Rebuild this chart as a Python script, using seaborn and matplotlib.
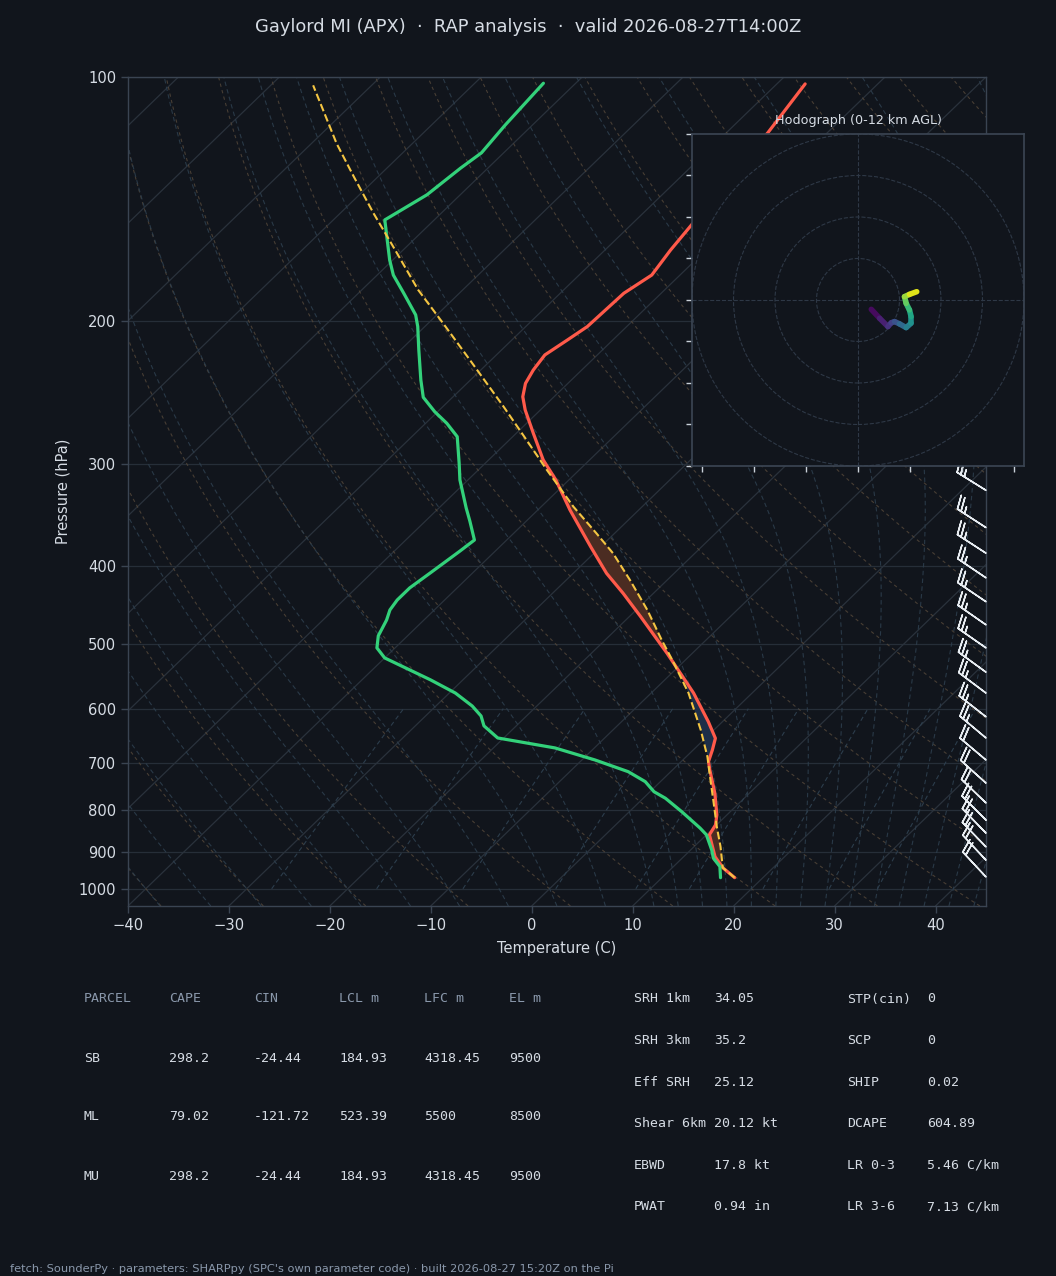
import numpy as np
import matplotlib
matplotlib.use("Agg")
import matplotlib.pyplot as plt
from matplotlib.collections import LineCollection
import seaborn as sns

# sounding (hPa, degC)
p_temp = [969, 942, 913, 887, 858, 834.5, 811, 763, 714, 697, 674.6, 652.6, 622.6, 574, 512.8,
          462, 432.6, 408.7, 379, 341.6, 313.6, 296.3, 274.8, 257.2, 247.7, 238.5, 229.6, 220,
          210.9, 203, 184.7, 175.4, 163.4, 152.2, 134, 117, 102]
temp = [17.2, 15.0, 13.1, 11.8, 10.3, 9.9, 9.0, 6.6, 3.7, 2.7, 1.9, 1.0, -1.4, -5.8, -12.5,
        -18.9, -23.0, -26.7, -31.0, -36.8, -41.3, -44.6, -48.3, -51.5, -53.1, -54.2, -54.8, -55.2,
        -54.5, -53.9, -53.7, -52.8, -53.5, -54.0, -54.8, -55.9, -57.2]

p_dwpt = [969, 939, 917, 896, 858, 842, 803.7, 773.6, 759.4, 738, 717.5, 694, 670.7, 652, 630,
          612.6, 595.5, 574, 553, 519.6, 505, 488, 466.6, 453.5, 440.9, 426, 408.3, 383.7, 371.9,
          352.4, 339.6, 313.6, 299, 277.4, 267.1, 258.4, 248.1, 236.3, 216.9, 203, 196.4, 184.7,
          175.4, 168.1, 158.8, 150, 139.7, 129.5, 124, 114.6, 101.8]
dwpt = [15.8, 14.6, 13.1, 12.1, 10.0, 8.7, 5.2, 2.2, 0.4, -1.5, -4.2, -8.7, -13.9, -20.6, -23.2,
        -24.5, -26.4, -29.4, -33.2, -40.0, -41.8, -42.9, -43.7, -44.4, -44.7, -44.7, -44.2, -43.5,
        -43.2, -45.6, -47.3, -50.8, -52.6, -55.5, -57.9, -60.3, -62.9, -64.9, -68.2, -70.7, -72.1,
        -75.5, -78.4, -80.3, -82.6, -84.9, -83.3, -82.7, -82.2, -82.7, -83.2]

p_parcel = [969, 942, 887, 838.5, 784.7, 727.6, 687.6, 637.4, 574, 522.6, 493.8, 453.5, 416.5,
            386.2, 364.9, 338.4, 304.9, 280, 254.7, 223.2, 201.2, 183, 161.9, 147.2, 132.7,
            120.8, 102.4]
t_parcel = [17.2, 15.0, 12.6, 10.2, 7.5, 4.4, 2.1, -1.3, -6.3, -11.3, -14.4, -18.9, -23.7,
            -28.1, -31.8, -36.8, -43.2, -48.3, -54.0, -62.1, -68.5, -74.4, -81.3, -86.7, -92.4,
            -97.5, -105.8]

# wind barbs (kt)
barb_p = [967, 922, 888, 854, 823, 784, 741, 694, 652, 614, 574, 541, 505, 473, 443, 414, 386, 359, 323]
barb_u = [13.6, 13.6, 13.9, 13.9, 14.1, 14.4, 14.9, 15.3, 19.2, 19.7, 20.0, 20.2, 20.5, 20.5,
          20.7, 20.7, 21.0, 21.0, 21.2]
barb_v = [-14.6, -14.6, -14.4, -14.4, -14.1, -13.9, -13.4, -12.9, -16.1, -15.4, -15.0, -14.7,
          -14.3, -14.3, -14.0, -14.0, -13.6, -13.6, -13.2]

# hodograph (kt) and height (km AGL)
hodo_u = [6.4, 10.4, 14.4, 16.0, 17.6, 20.0, 23.2, 25.6, 25.6, 24.8, 23.2, 22.4, 24.8, 28.3]
hodo_v = [-4.5, -8.8, -12.8, -11.0, -10.4, -11.5, -13.3, -11.2, -8.0, -4.8, -1.6, 1.6, 2.7, 4.0]
hodo_z = [0, 0.7, 1.4, 2.0, 2.6, 3.5, 4.6, 5.6, 6.6, 7.6, 8.6, 9.6, 10.8, 12.0]

# parameter tables
parcels = ["SB", "ML", "MU"]
cape = [298.2, 79.02, 298.2]
cin = [-24.44, -121.72, -24.44]
lcl = [184.93, 523.39, 184.93]
lfc = [4318.45, 5500, 4318.45]
el = [9500, 8500, 9500]
kin_names = ["SRH 1km", "SRH 3km", "Eff SRH", "Shear 6km", "EBWD", "PWAT"]
kin_vals = ["34.05", "35.2", "25.12", "20.12 kt", "17.8 kt", "0.94 in"]
thermo_names = ["STP(cin)", "SCP", "SHIP", "DCAPE", "LR 0-3", "LR 3-6"]
thermo_vals = ["0", "0", "0.02", "604.89", "5.46 C/km", "7.13 C/km"]

bg = "#11151c"
spine_c = "#3a4452"
grid_c = "#262e38"
txt_c = "#d6dce4"
dim_c = "#8a98ab"

sns.set_theme(style="dark", rc={"axes.facecolor": bg, "figure.facecolor": bg})
plt.rcParams["font.family"] = ["DejaVu Sans"]

P_BOT, P_TOP, X_MIN, X_MAX = 1050.0, 100.0, -40.0, 45.0


def skx(t, p):
    # 45 deg skew in axes units
    p = np.asarray(p, dtype=float)
    return np.asarray(t, dtype=float) + (X_MAX - X_MIN) * np.log(P_BOT / p) / np.log(P_BOT / P_TOP)


Rd, Cp, Lv, eps = 287.04, 1005.7, 2.501e6, 0.622


def sat_mr(tk, p):
    es = 6.112 * np.exp(17.67 * (tk - 273.15) / (tk - 29.65))
    return eps * es / (p - es)


def moist_line(t0, ps):
    def f(tk, lp):
        rs = sat_mr(tk, np.exp(lp))
        return (Rd * tk + Lv * rs) / (Cp + Lv ** 2 * rs * eps / (Rd * tk ** 2))
    tk = t0 + 273.15
    out = [tk]
    for a, b in zip(ps[:-1], ps[1:]):
        l0, l1 = np.log(a), np.log(b)
        h = l1 - l0
        k1 = f(tk, l0)
        k2 = f(tk + h / 2 * k1, l0 + h / 2)
        k3 = f(tk + h / 2 * k2, l0 + h / 2)
        k4 = f(tk + h * k3, l1)
        tk = tk + h / 6 * (k1 + 2 * k2 + 2 * k3 + k4)
        out.append(tk)
    return np.array(out) - 273.15


fig = plt.figure(figsize=(10.56, 12.76), dpi=100)
ax = fig.add_axes([0.1212, 0.2900, 0.8125, 0.6497])
ax.set_facecolor(bg)
ax.set_yscale("log")

# background: isobars, isotherms, adiabats, mixing ratio lines
for pl in range(100, 1001, 100):
    ax.axhline(pl, color=grid_c, lw=0.9, zorder=0)
for t in range(-130, 50, 10):
    ax.plot(skx([t, t], [P_BOT, P_TOP]), [P_BOT, P_TOP], color="#2a323c", lw=0.9, zorder=0)

pg = np.geomspace(P_BOT, P_TOP, 120)
for th in np.arange(-40, 200.1, 10):
    td = (th + 273.15) * (pg / 1000.0) ** (Rd / Cp) - 273.15
    ax.plot(skx(td, pg), pg, color="#55483a", lw=0.8, ls=(0, (3, 3)), alpha=0.8, zorder=0)

p_up = np.geomspace(1000, P_TOP, 140)
p_dn = np.geomspace(1000, P_BOT, 6)
for t0 in np.concatenate((np.arange(-50.0, 10.1, 5.0), np.arange(12.5, 45.1, 2.5))):
    tu = moist_line(t0, p_up)
    tdn = moist_line(t0, p_dn)
    pp = np.concatenate((p_dn[::-1], p_up[1:]))
    tt = np.concatenate((tdn[::-1], tu[1:]))
    ax.plot(skx(tt, pp), pp, color="#2c3d4c", lw=0.8, ls=(0, (4, 3)), alpha=0.9, zorder=0)

pm = np.linspace(1000, 600, 30)
for w in [0.0004, 0.001, 0.002, 0.004, 0.007, 0.01, 0.016, 0.024, 0.032]:
    e = pm * w / (eps + w)
    le = np.log(e / 6.112)
    tw = 243.5 * le / (17.67 - le)
    ax.plot(skx(tw, pm), pm, color="#2c3d4c", lw=0.8, ls=(0, (4, 3)), zorder=0)

# CAPE / CIN shading between temperature and parcel
pf = np.geomspace(969, 300, 400)
lp_t = np.log(p_temp[::-1])
lp_p = np.log(p_parcel[::-1])
tf = np.interp(np.log(pf), lp_t, temp[::-1])
parf = np.interp(np.log(pf), lp_p, t_parcel[::-1])
ax.fill_betweenx(pf, skx(tf, pf), skx(parf, pf), where=(parf > tf) & ((pf < 525) | (pf > 820)),
                 color="#4b2c22", interpolate=True, zorder=1, lw=0)
ax.fill_betweenx(pf, skx(tf, pf), skx(parf, pf), where=(parf < tf) & (pf > 500) & (pf < 735),
                 color="#1d2e48", interpolate=True, zorder=1, lw=0)

# profiles
sns.lineplot(x=skx(temp, p_temp), y=p_temp, sort=False, estimator=None, ax=ax,
             color="#ff5a4a", lw=2.3, zorder=3)
sns.lineplot(x=skx(dwpt, p_dwpt), y=p_dwpt, sort=False, estimator=None, ax=ax,
             color="#33d17a", lw=2.3, zorder=3)
sns.lineplot(x=skx(t_parcel, p_parcel), y=p_parcel, sort=False, estimator=None, ax=ax,
             color="#f4c542", lw=1.5, ls="--", zorder=4)

ax.barbs([1.0] * len(barb_p), barb_p, barb_u, barb_v, transform=ax.get_yaxis_transform(),
         clip_on=False, color="#e8edf2", length=7, linewidth=1.1, zorder=5)

ax.set_ylim(P_BOT, P_TOP)
ax.set_xlim(X_MIN, X_MAX)
ax.set_yticks(range(100, 1001, 100))
ax.set_yticklabels([str(v) for v in range(100, 1001, 100)])
ax.minorticks_off()
ax.set_xticks(range(-40, 41, 10))
ax.tick_params(colors=spine_c, labelcolor=txt_c, labelsize=10.6, length=5, width=1,
               bottom=True, left=True, direction="out")
ax.set_xlabel("Temperature (C)", color=txt_c, fontsize=10.5, labelpad=6)
ax.set_ylabel("Pressure (hPa)", color=txt_c, fontsize=10.5, labelpad=6)
ax.grid(False)
for s in ax.spines.values():
    s.set_color(spine_c)
    s.set_linewidth(1)

# hodograph inset
hx = fig.add_axes([0.6553, 0.6348, 0.3144, 0.2602])
hx.set_facecolor(bg)
for r in [20, 40, 60, 80]:
    hx.add_patch(plt.Circle((0, 0), r, fill=False, ls="--", lw=0.8, color="#2e3846"))
hx.axhline(0, color="#2e3846", ls="--", lw=0.8)
hx.axvline(0, color="#2e3846", ls="--", lw=0.8)
pts = np.column_stack([hodo_u, hodo_v])
segs = np.stack([pts[:-1], pts[1:]], axis=1)
zmid = (np.array(hodo_z[:-1]) + np.array(hodo_z[1:])) / 2
lc = LineCollection(segs, cmap="viridis", norm=plt.Normalize(0, 12), lw=4, capstyle="round")
lc.set_array(zmid)
hx.add_collection(lc)
hx.set_xlim(-80, 80)
hx.set_ylim(-80, 80)
hx.set_xticks(np.arange(-75, 76, 25))
hx.set_yticks(np.arange(-80, 81, 20))
hx.tick_params(labelbottom=False, labelleft=False, colors="#c9d1d9", length=4, width=1,
               bottom=True, left=True, direction="out")
hx.grid(False)
for s in hx.spines.values():
    s.set_color(spine_c)
hx.set_title("Hodograph (0-12 km AGL)", color=txt_c, fontsize=9.2, pad=7)

fig.text(0.5, 1 - 27 / 1276, "Gaylord MI (APX)  \u00b7  RAP analysis  \u00b7  valid 2026-08-27T14:00Z",
         ha="center", va="center", color=txt_c, fontsize=12.9)

# parcel table
mono = "DejaVu Sans Mono"
col_x = [84, 169, 254, 339, 424, 509]
header = ["PARCEL", "CAPE", "CIN", "LCL m", "LFC m", "EL m"]
for x, h in zip(col_x, header):
    fig.text(x / 1056, 1 - 999 / 1276, h, family=mono, fontsize=9.5, color=dim_c, va="center")
for i, name in enumerate(parcels):
    y = 1 - (1058 + 59 * i) / 1276
    row = [name, cape[i], cin[i], lcl[i], lfc[i], el[i]]
    for x, v in zip(col_x, row):
        fig.text(x / 1056, y, str(v), family=mono, fontsize=9.5, color=txt_c, va="center")

# kinematic / composite table
for i in range(len(kin_names)):
    y = 1 - (999 + 41.6 * i) / 1276
    fig.text(634 / 1056, y, kin_names[i], family=mono, fontsize=9.5, color=txt_c, va="center")
    fig.text(714 / 1056, y, kin_vals[i], family=mono, fontsize=9.5, color=txt_c, va="center")
    fig.text(847 / 1056, y, thermo_names[i], family=mono, fontsize=9.5, color=txt_c, va="center")
    fig.text(927 / 1056, y, thermo_vals[i], family=mono, fontsize=9.5, color=txt_c, va="center")

fig.text(10 / 1056, 1 - 1269 / 1276,
         "fetch: SounderPy \u00b7 parameters: SHARPpy (SPC's own parameter code) \u00b7 built 2026-08-27 15:20Z on the Pi",
         color=dim_c, fontsize=8.2, va="center")

fig.savefig("out.png", dpi=100, facecolor=bg)
